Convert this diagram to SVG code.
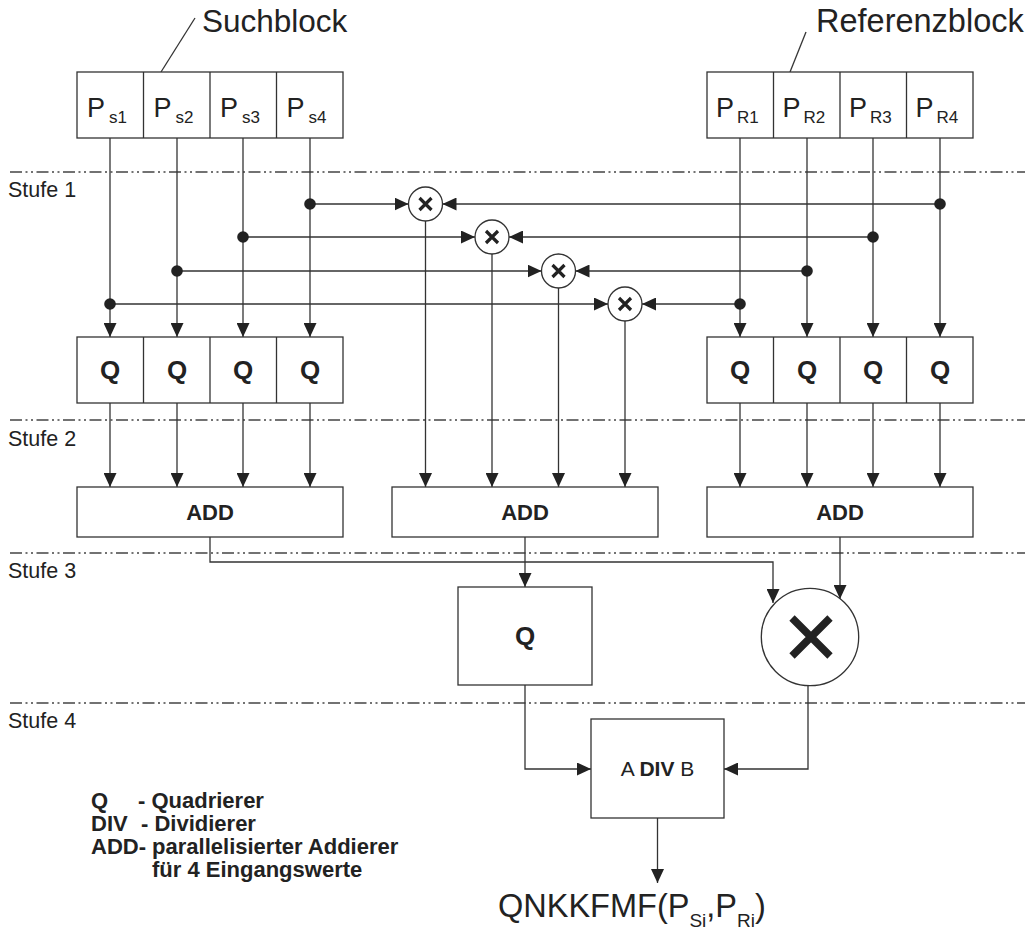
<svg xmlns="http://www.w3.org/2000/svg" width="1025" height="931" viewBox="0 0 1025 931">
<defs>
<style>
.box{fill:#fff;stroke:#333;stroke-width:1.3}
.ln{fill:none;stroke:#333;stroke-width:1.3}
.arr{fill:none;stroke:#333;stroke-width:1.3;marker-end:url(#ah)}
.stage{fill:none;stroke:#444;stroke-width:1.3;stroke-dasharray:12 3.5 2 3.5 2 3.5}
.t{font-family:"Liberation Sans",Arial,sans-serif;fill:#222}
.b{font-weight:bold}
.p{font-size:27px}
.sub{font-size:17px}
.q{font-size:26px;font-weight:bold;text-anchor:middle}
.add{font-size:22px;font-weight:bold;text-anchor:middle}
.stufe{font-size:21.5px}
.leg{font-size:22px;font-weight:bold}
.dot{fill:#222}
.mx{stroke:#222;stroke-width:3.2;stroke-linecap:butt}
</style>
<marker id="ah" viewBox="0 0 14 13" refX="14" refY="6.5" markerWidth="14" markerHeight="13" markerUnits="userSpaceOnUse" orient="auto">
<path d="M0,0 L14,6.5 L0,13 z" fill="#222"/>
</marker>
</defs>
<rect width="1025" height="931" fill="#fff"/>

<g id="stages">
<line class="stage" x1="10" y1="172" x2="1025" y2="172"/>
<line class="stage" x1="10" y1="420" x2="1025" y2="420"/>
<line class="stage" x1="10" y1="553" x2="1025" y2="553"/>
<line class="stage" x1="10" y1="703" x2="1025" y2="703"/>
<text class="t stufe" x="8" y="197">Stufe 1</text>
<text class="t stufe" x="8" y="446">Stufe 2</text>
<text class="t stufe" x="8" y="578">Stufe 3</text>
<text class="t stufe" x="8" y="728">Stufe 4</text>
</g>

<g id="suchblock">
<text class="t" x="202" y="32" font-size="31.5">Suchblock</text>
<line class="ln" x1="161" y1="72" x2="195" y2="18"/>
<rect class="box" x="77" y="72" width="266" height="66"/>
<line class="ln" x1="143.5" y1="72" x2="143.5" y2="138"/>
<line class="ln" x1="210" y1="72" x2="210" y2="138"/>
<line class="ln" x1="276.5" y1="72" x2="276.5" y2="138"/>
<text class="t p" x="87" y="117">P<tspan class="sub" dx="4" dy="6">s1</tspan></text>
<text class="t p" x="153.5" y="117">P<tspan class="sub" dx="4" dy="6">s2</tspan></text>
<text class="t p" x="220" y="117">P<tspan class="sub" dx="4" dy="6">s3</tspan></text>
<text class="t p" x="286.5" y="117">P<tspan class="sub" dx="4" dy="6">s4</tspan></text>
</g>

<g id="referenzblock">
<text class="t" x="816" y="32" font-size="32.5">Referenzblock</text>
<line class="ln" x1="790" y1="72" x2="806" y2="32"/>
<rect class="box" x="707" y="72" width="266" height="66"/>
<line class="ln" x1="773.5" y1="72" x2="773.5" y2="138"/>
<line class="ln" x1="840" y1="72" x2="840" y2="138"/>
<line class="ln" x1="906.5" y1="72" x2="906.5" y2="138"/>
<text class="t p" x="716" y="117">P<tspan class="sub" dx="3" dy="6">R1</tspan></text>
<text class="t p" x="782.5" y="117">P<tspan class="sub" dx="3" dy="6">R2</tspan></text>
<text class="t p" x="849" y="117">P<tspan class="sub" dx="3" dy="6">R3</tspan></text>
<text class="t p" x="915.5" y="117">P<tspan class="sub" dx="3" dy="6">R4</tspan></text>
</g>

<g id="connectors">
<path class="arr" d="M110,138 V337"/>
<path class="arr" d="M177,138 V337"/>
<path class="arr" d="M243,138 V337"/>
<path class="arr" d="M310,138 V337"/>
<path class="arr" d="M740,138 V337"/>
<path class="arr" d="M807,138 V337"/>
<path class="arr" d="M873,138 V337"/>
<path class="arr" d="M940,138 V337"/>
<path class="arr" d="M310,204 H408.5"/>
<path class="arr" d="M940,204 H442.5"/>
<path class="arr" d="M243,237 H475"/>
<path class="arr" d="M873,237 H509"/>
<path class="arr" d="M177,271 H541.5"/>
<path class="arr" d="M807,271 H575.5"/>
<path class="arr" d="M110,304 H608"/>
<path class="arr" d="M740,304 H642"/>
<circle class="dot" cx="310" cy="204" r="5.8"/>
<circle class="dot" cx="243" cy="237" r="5.8"/>
<circle class="dot" cx="177" cy="271" r="5.8"/>
<circle class="dot" cx="110" cy="304" r="5.8"/>
<circle class="dot" cx="940" cy="204" r="5.8"/>
<circle class="dot" cx="873" cy="237" r="5.8"/>
<circle class="dot" cx="807" cy="271" r="5.8"/>
<circle class="dot" cx="740" cy="304" r="5.8"/>
<path class="arr" d="M425.5,221 V487"/>
<path class="arr" d="M492,254 V487"/>
<path class="arr" d="M558.5,288 V487"/>
<path class="arr" d="M625,321 V487"/>
<path class="arr" d="M110,403 V487"/>
<path class="arr" d="M177,403 V487"/>
<path class="arr" d="M243,403 V487"/>
<path class="arr" d="M310,403 V487"/>
<path class="arr" d="M740,403 V487"/>
<path class="arr" d="M807,403 V487"/>
<path class="arr" d="M873,403 V487"/>
<path class="arr" d="M940,403 V487"/>
<path class="arr" d="M210,537 V562 H773 V603"/>
<path class="arr" d="M525,537 V587"/>
<path class="arr" d="M840,537 V599"/>
<path class="arr" d="M525,685 V769 H591"/>
<path class="arr" d="M808,685.5 V769 H724"/>
<path class="arr" d="M657.5,818 V883"/>
</g>

<g id="mul1"><circle class="box" cx="425.5" cy="204" r="17"/><path class="mx" d="M419.5,198 L431.5,210 M431.5,198 L419.5,210"/></g>
<g id="mul2"><circle class="box" cx="492" cy="237" r="17"/><path class="mx" d="M486,231 L498,243 M498,231 L486,243"/></g>
<g id="mul3"><circle class="box" cx="558.5" cy="271" r="17"/><path class="mx" d="M552.5,265 L564.5,277 M564.5,265 L552.5,277"/></g>
<g id="mul4"><circle class="box" cx="625" cy="304" r="17"/><path class="mx" d="M619,298 L631,310 M631,298 L619,310"/></g>

<g id="q-left">
<rect class="box" x="77" y="337" width="266" height="66"/>
<line class="ln" x1="143.5" y1="337" x2="143.5" y2="403"/>
<line class="ln" x1="210" y1="337" x2="210" y2="403"/>
<line class="ln" x1="276.5" y1="337" x2="276.5" y2="403"/>
<text class="t q" x="110" y="379">Q</text>
<text class="t q" x="177" y="379">Q</text>
<text class="t q" x="243" y="379">Q</text>
<text class="t q" x="310" y="379">Q</text>
</g>

<g id="q-right">
<rect class="box" x="707" y="337" width="266" height="66"/>
<line class="ln" x1="773.5" y1="337" x2="773.5" y2="403"/>
<line class="ln" x1="840" y1="337" x2="840" y2="403"/>
<line class="ln" x1="906.5" y1="337" x2="906.5" y2="403"/>
<text class="t q" x="740" y="379">Q</text>
<text class="t q" x="807" y="379">Q</text>
<text class="t q" x="873" y="379">Q</text>
<text class="t q" x="940" y="379">Q</text>
</g>

<g id="add-left"><rect class="box" x="77" y="487" width="266" height="50"/><text class="t add" x="210" y="520">ADD</text></g>
<g id="add-mid"><rect class="box" x="392" y="487" width="266" height="50"/><text class="t add" x="525" y="520">ADD</text></g>
<g id="add-right"><rect class="box" x="707" y="487" width="266" height="50"/><text class="t add" x="840" y="520">ADD</text></g>

<g id="q-mid"><rect class="box" x="458" y="587" width="134" height="98"/><text class="t q" x="525" y="645">Q</text></g>

<g id="mul-big"><circle class="box" cx="810" cy="637" r="48.7"/><path d="M792,618 L830,656 M830,618 L792,656" stroke="#222" stroke-width="7.5"/></g>

<g id="div">
<rect class="box" x="591" y="719" width="133" height="99"/>
<text class="t" x="657.5" y="776" font-size="21" text-anchor="middle">A <tspan class="b">DIV</tspan> B</text>
</g>

<g id="result">
<text class="t" x="498" y="917" font-size="32.5">QNKKFMF(P<tspan font-size="19" dy="10">Si</tspan><tspan dy="-10">,P</tspan><tspan font-size="19" dy="10">Ri</tspan><tspan dy="-10">)</tspan></text>
</g>

<g id="legend">
<text class="t leg" x="91" y="808">Q</text>
<text class="t leg" x="138" y="808">- Quadrierer</text>
<text class="t leg" x="91" y="831">DIV</text>
<text class="t leg" x="141" y="831">- Dividierer</text>
<text class="t leg" x="91" y="854">ADD- parallelisierter Addierer</text>
<text class="t leg" x="152" y="877">für 4 Eingangswerte</text>
</g>
</svg>
